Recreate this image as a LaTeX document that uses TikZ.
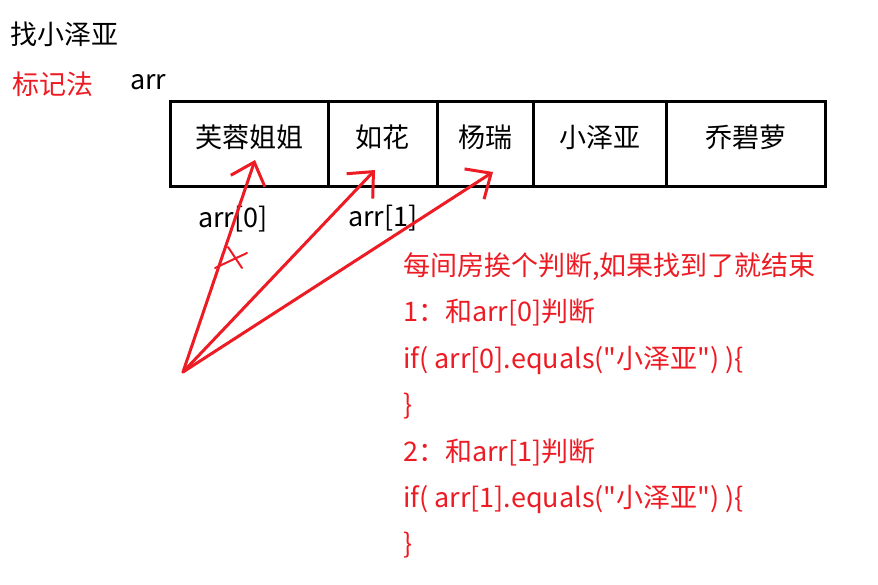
\documentclass[tikz,border=0pt]{standalone}
\usepackage{fontspec}
\setmainfont{Noto Sans CJK SC}[Ligatures=TeXOff]
\usetikzlibrary{arrows.meta, positioning}
\definecolor{penRed}{HTML}{ED1C24}
\tikzset{
  sheet/.style = {
    x=1pt, y=-1pt,
    font=\fontsize{27}{32}\selectfont,
  },
  txt/.style = {anchor=base west, inner sep=0pt},
  note/.style = {txt, text=penRed},
  cell/.style = {
    rectangle, draw, line width=3pt, outer sep=0pt, inner sep=0pt,
    anchor=west, minimum height=85pt, text height=19pt, text depth=11pt,
  },
  pen/.style = {
    draw=penRed, line width=3pt, line cap=round,
    -{Straight Barb[length=20pt, width=36pt, line width=3pt]},
  },
  scribble/.style = {draw=penRed, line width=2pt, line cap=round},
}

\begin{document}
\begin{tikzpicture}[sheet]
\useasboundingbox (0,0) rectangle (878,585);

% headings
\node[txt]  (title)  at (10,45)  {找小泽亚};
\node[note] (method) at (12,95)  {标记法};
\node[txt]  (arrname) at (130,90) {arr};

% the array
\node[cell, minimum width=158pt] (c0) at (170,144) {芙蓉姐姐};
\node[cell, minimum width=109pt] (c1) at (328,144) {如花};
\node[cell, minimum width=96pt]  (c2) at (437,144) {杨瑞};
\node[cell, minimum width=133pt] (c3) at (533,144) {小泽亚};
\node[cell, minimum width=159pt] (c4) at (666,144) {乔碧萝};

\node[txt] (idx0) at (198,228) {arr[0]};
\node[txt] (idx1) at (348,227) {arr[1]};

% pointer and its tries
\coordinate (from) at (183,372);
\coordinate (hit0) at (255,160);
\coordinate (hit1) at (375,170);
\coordinate (hit2) at (493,172);

\draw[pen] (from) -- (hit0);
\draw[pen] (from) -- (hit1);
\draw[pen] (from) -- (hit2);

\draw[scribble] (215,268) -- (247,253);
\draw[scribble] (228,247) -- (242,268);

% notes
\node[note] (step0) at (403,276) {每间房挨个判断,如果找到了就结束};
\node[note] (step1) at (403,322) {1：和arr[0]判断};
\node[note] (step2) at (403,368) {if( arr[0].equals("小泽亚") )\{};
\node[note] (step3) at (403,414) {\}};
\node[note] (step4) at (403,461) {2：和arr[1]判断};
\node[note] (step5) at (403,507) {if( arr[1].equals("小泽亚") )\{};
\node[note] (step6) at (403,553) {\}};

\end{tikzpicture}
\end{document}
